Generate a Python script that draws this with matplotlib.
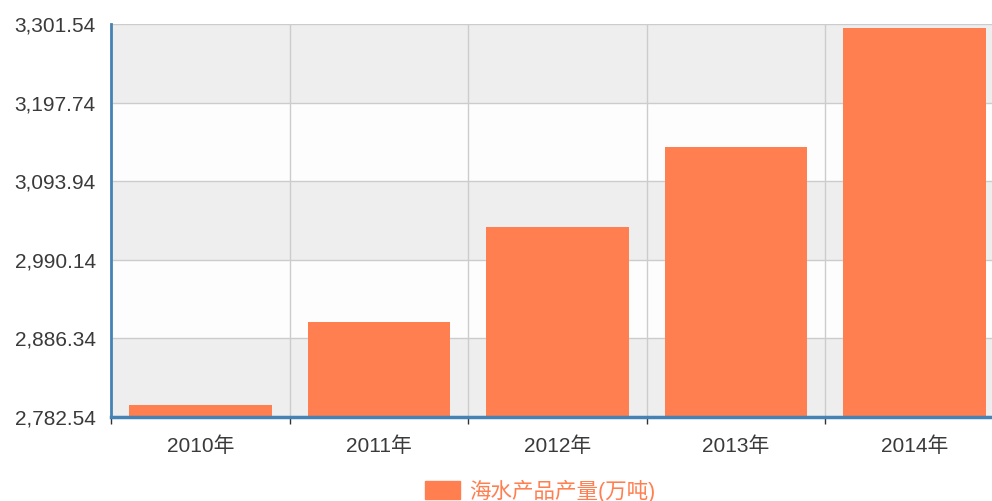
import numpy as np
import matplotlib.pyplot as plt
from matplotlib.patches import Patch
from matplotlib.ticker import FixedLocator, FuncFormatter

plt.rcParams['font.family'] = ['Liberation Sans', 'Noto Sans CJK SC', 'DejaVu Sans']

# --- data ---
years = ['2010年', '2011年', '2012年', '2013年', '2014年']
output = [2797.53, 2908.05, 3033.34, 3138.83, 3296.22]
series_name = '海水产品产量(万吨)'
y_min, y_max, y_step = 2782.54, 3301.54, 103.8

bar_color = '#ff7f50'
axis_blue = '#4682b4'

fig = plt.figure(figsize=(9.92, 5.01), dpi=100)
ax = fig.add_axes([0.112, 0.168, 0.900, 0.784])

yticks = [y_min + i * y_step for i in range(6)]

# alternating bands, gray at the top
for i in range(5):
    c = '#eeeeee' if (4 - i) % 2 == 0 else '#fdfdfd'
    ax.axhspan(yticks[i], yticks[i + 1], color=c, zorder=0, lw=0)

x = np.arange(len(years))
ax.bar(x, output, width=0.8, color=bar_color, zorder=3)

ax.set_xlim(-0.5, len(years) - 0.5)
ax.set_ylim(y_min, y_max)

# y axis
ax.yaxis.set_major_locator(FixedLocator(yticks))
ax.yaxis.set_major_formatter(FuncFormatter(lambda v, p: f'{v:,.2f}'))
ax.tick_params(axis='y', length=0, pad=11, labelsize=15, labelcolor='#3a3a3a')

# x axis: ticks at category boundaries, labels at centres
ax.set_xticks(np.arange(len(years) + 1) - 0.5)
ax.set_xticklabels([])
ax.set_xticks(x, minor=True)
ax.set_xticklabels(years, minor=True)
ax.tick_params(axis='x', which='major', length=5, width=1, color='#333333', direction='out')
ax.tick_params(axis='x', which='minor', length=0, pad=14, labelsize=15, labelcolor='#3a3a3a')

ax.grid(True, which='major', color='#cccccc', linewidth=1, zorder=1)
ax.set_axisbelow(True)

for s in ['top', 'right']:
    ax.spines[s].set_visible(False)
ax.spines['left'].set_color(axis_blue)
ax.spines['left'].set_linewidth(2)
ax.spines['bottom'].set_color(axis_blue)
ax.spines['bottom'].set_linewidth(2.5)
ax.spines['left'].set_zorder(5)
ax.spines['bottom'].set_zorder(5)

leg = fig.legend(handles=[Patch(facecolor=bar_color, edgecolor=bar_color, label=series_name)],
                 loc='center', bbox_to_anchor=(0.545, 0.02), frameon=False,
                 fontsize=15.5, labelcolor=bar_color, handlelength=1.6, handleheight=0.95,
                 handletextpad=0.45)

fig.savefig('out.png', dpi=100)
